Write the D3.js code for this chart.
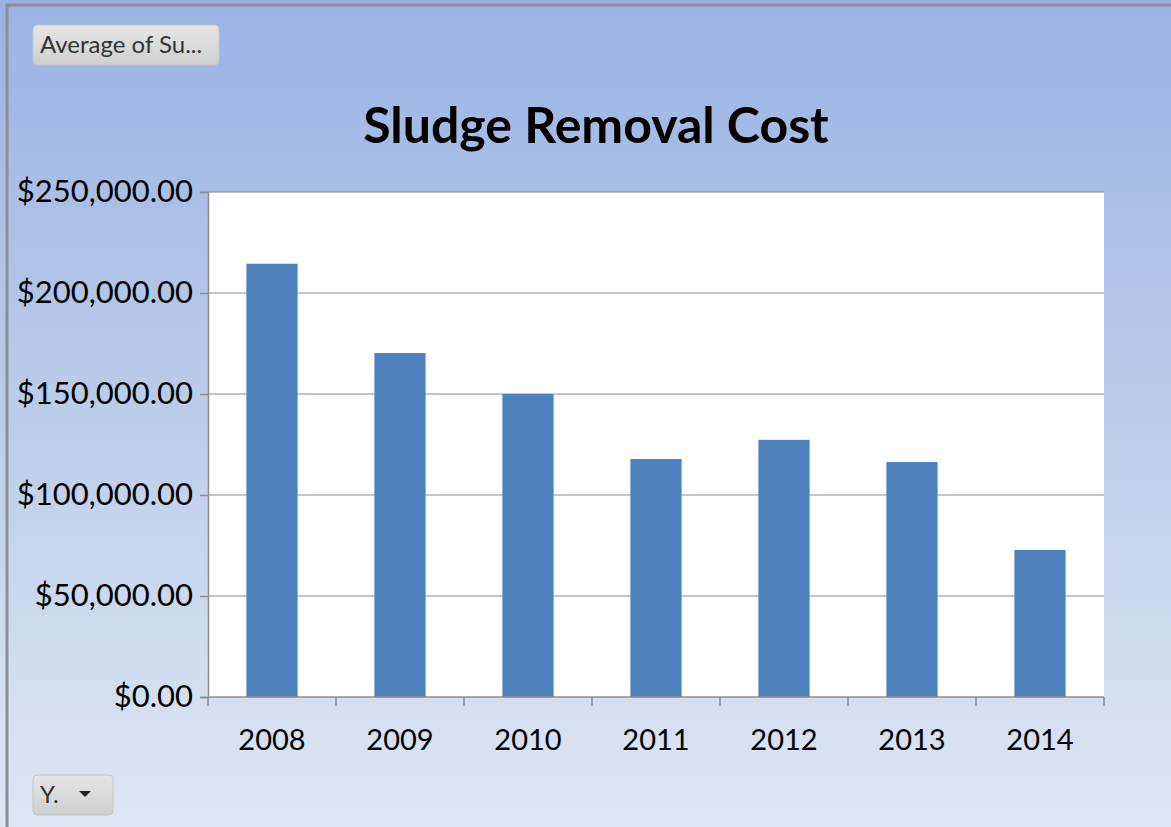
<!DOCTYPE html>
<html>
<head>
<meta charset="utf-8">
<script src="https://cdn.jsdelivr.net/npm/d3@7"></script>
<style>
  html, body { margin: 0; padding: 0; background: #fff; }
  svg { display: block; font-family: Lato, "Open Sans", sans-serif; }
</style>
</head>
<body>
<div id="chart"></div>
<script>
// chart data
const years = ["2008", "2009", "2010", "2011", "2012", "2013", "2014"];
const avgCost = [214500, 170300, 150000, 117800, 127300, 116300, 72800];
const yTicks = [0, 50000, 100000, 150000, 200000, 250000];
const chartTitle = "Sludge Removal Cost";

const width = 1171, height = 827;
const plot = { left: 208, right: 1104, top: 192, bottom: 697 };

const svg = d3.select("#chart").append("svg")
    .attr("width", width)
    .attr("height", height);

// background gradient
const defs = svg.append("defs");
const grad = defs.append("linearGradient").attr("id", "bg")
    .attr("x1", 0).attr("y1", 0).attr("x2", 0).attr("y2", 1);
grad.append("stop").attr("offset", "0%").attr("stop-color", "#98b3e3");
grad.append("stop").attr("offset", "100%").attr("stop-color", "#dfe6f3");

const btnGrad = defs.append("linearGradient").attr("id", "btn")
    .attr("x1", 0).attr("y1", 0).attr("x2", 0).attr("y2", 1);
btnGrad.append("stop").attr("offset", "0%").attr("stop-color", "#e6e6e6");
btnGrad.append("stop").attr("offset", "100%").attr("stop-color", "#cfcfcf");

svg.append("rect").attr("width", width).attr("height", height).attr("fill", "url(#bg)");
// window edges
svg.append("line").attr("x1", 7).attr("x2", 7).attr("y1", 4).attr("y2", height)
    .attr("stroke", "#8a8f98").attr("stroke-width", 3);
svg.append("line").attr("x1", 6).attr("x2", width).attr("y1", 5).attr("y2", 5)
    .attr("stroke", "#8a8f98").attr("stroke-width", 3);

// field buttons
function button(x, y, w, h, label, size) {
    const g = svg.append("g").attr("transform", `translate(${x},${y})`);
    g.append("rect").attr("width", w).attr("height", h).attr("rx", 4)
        .attr("fill", "url(#btn)").attr("stroke", "#c4c4c4");
    g.append("text").attr("x", 7).attr("y", h / 2 + 8)
        .attr("font-size", size).attr("fill", "#333").text(label);
    return g;
}
button(33, 25, 186, 40, "Average of Su...", 24);
const yb = button(33, 775, 80, 40, "Y.", 24);
yb.append("path").attr("d", "M46,16 L58,16 L52,22 Z").attr("fill", "#222");

// title
svg.append("text")
    .attr("x", 596).attr("y", 143)
    .attr("text-anchor", "middle")
    .attr("font-size", 50).attr("font-weight", "bold")
    .attr("fill", "#000")
    .text(chartTitle);

const x = d3.scaleBand().domain(years).range([plot.left, plot.right]).paddingInner(0.6).paddingOuter(0.3);
const y = d3.scaleLinear().domain([0, 250000]).range([plot.bottom, plot.top]);

svg.append("rect")
    .attr("x", plot.left).attr("y", plot.top)
    .attr("width", plot.right - plot.left).attr("height", plot.bottom - plot.top)
    .attr("fill", "#fff");

// gridlines
svg.append("g").selectAll("line").data(yTicks.filter(d => d > 0)).join("line")
    .attr("x1", plot.left).attr("x2", plot.right)
    .attr("y1", d => y(d)).attr("y2", d => y(d))
    .attr("stroke", "#8c8c8c").attr("stroke-width", 1);

// bars
svg.append("g").selectAll("rect").data(years).join("rect")
    .attr("x", d => x(d))
    .attr("y", (d, i) => y(avgCost[i]))
    .attr("width", x.bandwidth())
    .attr("height", (d, i) => y(0) - y(avgCost[i]))
    .attr("fill", "#4f81bd");

// y axis
const fmt = d3.format("$,.2f");
const yAxis = svg.append("g")
    .attr("transform", `translate(${plot.left},0)`)
    .call(d3.axisLeft(y).tickValues(yTicks).tickFormat(fmt).tickSize(8).tickPadding(7));
yAxis.select(".domain").attr("stroke", "#8c8c8c").attr("stroke-width", 1.5);
yAxis.selectAll(".tick line").attr("stroke", "#8c8c8c").attr("stroke-width", 1.5);
yAxis.selectAll("text").attr("font-size", 31).attr("fill", "#000")
    .attr("font-family", "Lato, 'Open Sans', sans-serif");

// x axis: ticks at category boundaries
const band = (plot.right - plot.left) / years.length;
const boundaries = d3.range(years.length + 1).map(i => plot.left + i * band);
const xg = svg.append("g");
xg.append("line").attr("x1", plot.left).attr("x2", plot.right)
    .attr("y1", plot.bottom).attr("y2", plot.bottom)
    .attr("stroke", "#8c8c8c").attr("stroke-width", 1.5);
xg.selectAll("line.tk").data(boundaries).join("line").attr("class", "tk")
    .attr("x1", d => d).attr("x2", d => d)
    .attr("y1", plot.bottom).attr("y2", plot.bottom + 9)
    .attr("stroke", "#8c8c8c").attr("stroke-width", 1.5);
xg.selectAll("text").data(years).join("text")
    .attr("x", d => x(d) + x.bandwidth() / 2)
    .attr("y", 750)
    .attr("text-anchor", "middle")
    .attr("font-size", 29).attr("fill", "#000")
    .text(d => d);
</script>
</body>
</html>
